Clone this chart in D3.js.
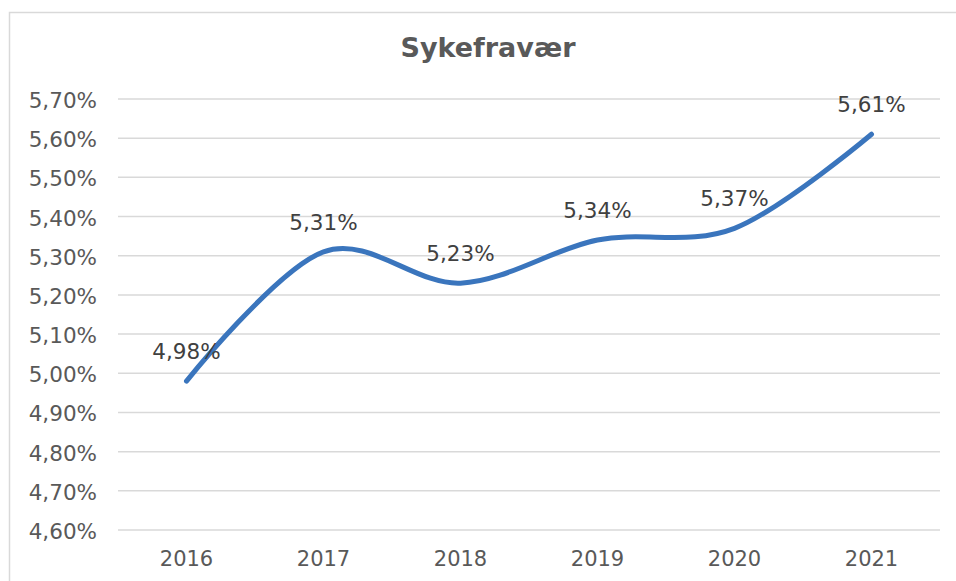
<!DOCTYPE html>
<html>
<head>
<meta charset="utf-8">
<script src="https://cdn.jsdelivr.net/npm/d3@7"></script>
<style>
  body { margin: 0; background: #fff; }
  svg { display: block; font-family: "DejaVu Sans", Verdana, sans-serif; }
</style>
</head>
<body>
<div id="chart"></div>
<script>
var years = ["2016", "2017", "2018", "2019", "2020", "2021"];
var values = [4.98, 5.31, 5.23, 5.34, 5.37, 5.61];
var yTicks = [4.6, 4.7, 4.8, 4.9, 5.0, 5.1, 5.2, 5.3, 5.4, 5.5, 5.6, 5.7];

var width = 956, height = 581;
var margin = {top: 99, right: 16, bottom: 51, left: 118};

var svg = d3.select("#chart").append("svg")
    .attr("width", width)
    .attr("height", height);

// chart frame
svg.append("rect")
    .attr("x", 9.5).attr("y", 12.5)
    .attr("width", 980).attr("height", 600)
    .attr("fill", "none")
    .attr("stroke", "#d9d9d9")
    .attr("stroke-width", 1.5);

svg.append("text")
    .attr("x", 488).attr("y", 57)
    .attr("text-anchor", "middle")
    .attr("font-size", 27)
    .attr("font-weight", "bold")
    .attr("fill", "#595959")
    .text("Sykefravær");

var x = d3.scaleBand()
    .domain(years)
    .range([margin.left, width - margin.right]);

var y = d3.scaleLinear()
    .domain([4.6, 5.7])
    .range([height - margin.bottom, margin.top]);

var fmt = function(v) { return d3.format(".2f")(v).replace(".", ",") + "%"; };

// gridlines
svg.append("g").selectAll("line")
    .data(yTicks)
    .enter().append("line")
    .attr("x1", margin.left)
    .attr("x2", width - margin.right)
    .attr("y1", function(d) { return y(d); })
    .attr("y2", function(d) { return y(d); })
    .attr("stroke", "#d9d9d9")
    .attr("stroke-width", 1.5);

// y labels
svg.append("g").selectAll("text")
    .data(yTicks)
    .enter().append("text")
    .attr("x", 97)
    .attr("y", function(d) { return y(d) + 9; })
    .attr("text-anchor", "end")
    .attr("font-size", 21.5)
    .attr("fill", "#595959")
    .text(function(d) { return fmt(d); });

// x labels
svg.append("g").selectAll("text")
    .data(years)
    .enter().append("text")
    .attr("x", function(d) { return x(d) + x.bandwidth() / 2; })
    .attr("y", 566)
    .attr("text-anchor", "middle")
    .attr("font-size", 21)
    .attr("fill", "#595959")
    .text(function(d) { return d; });

var line = d3.line()
    .x(function(d, i) { return x(years[i]) + x.bandwidth() / 2; })
    .y(function(d) { return y(d); })
    .curve(d3.curveCardinal.tension(0));

svg.append("path")
    .datum(values)
    .attr("d", line)
    .attr("fill", "none")
    .attr("stroke", "#3a75bd")
    .attr("stroke-width", 5)
    .attr("stroke-linecap", "round");

// data labels
svg.append("g").selectAll("text")
    .data(values)
    .enter().append("text")
    .attr("x", function(d, i) { return x(years[i]) + x.bandwidth() / 2; })
    .attr("y", function(d) { return y(d) - 22; })
    .attr("text-anchor", "middle")
    .attr("font-size", 21.5)
    .attr("fill", "#404040")
    .text(function(d) { return fmt(d); });
</script>
</body>
</html>
